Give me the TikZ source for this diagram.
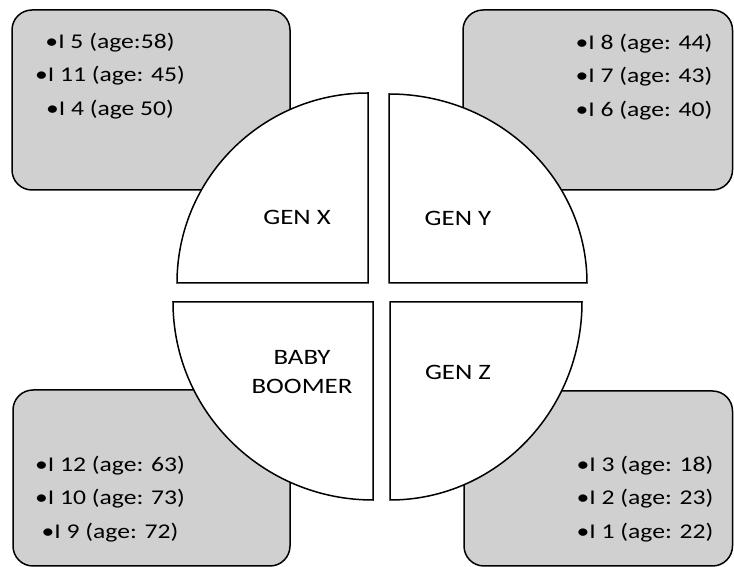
\documentclass[tikz,border=0pt]{standalone}
\usepackage{fontspec}
\setmainfont{Carlito}[FakeStretch=1.22]
\usepackage{xcolor}
\usepackage{tikz}
\usetikzlibrary{positioning}
\definecolor{panelgray}{RGB}{208,208,208}

\begin{document}
\begin{tikzpicture}[
    x=1pt, y=1pt,
    panel/.style={draw=black, line width=1.5pt, fill=panelgray, rounded corners=20pt},
    quad/.style={draw=black, line width=1.5pt, fill=white},
    items/.style={align=center, font=\fontsize{21}{33.5}\selectfont},
    gen/.style={align=center, font=\fontsize{22}{29}\selectfont},
]
\useasboundingbox (0,0) rectangle (734,567);
% grey panels
\draw[panel] (12,377) rectangle (290,557);
\draw[panel] (463,377) rectangle (732.5,557);
\draw[panel] (13,1) rectangle (290,177);
\draw[panel] (464,1) rectangle (732.5,176);
% quarter circles
\draw[quad] (368,284) -- (177,284) arc[start angle=180, end angle=90, x radius=191, y radius=190] -- cycle;
\draw[quad] (389,284) -- (389,473) arc[start angle=90, end angle=0, x radius=198, y radius=189] -- cycle;
\draw[quad] (373,265) -- (173,265) arc[start angle=180, end angle=270, x radius=200, y radius=198] -- cycle;
\draw[quad] (390,265) -- (582,265) arc[start angle=0, end angle=-90, x radius=192, y radius=198] -- cycle;
% labels
\node[gen] (genx) at (297,350) {GEN X};
\node[gen] (geny) at (458,349) {GEN Y};
\node[gen] (boomer) at (302,195) {BABY\\BOOMER};
\node[gen] (genz) at (458,195) {GEN Z};
% members
\node[items] (listx) at (110,491) {•I 5 (age:58)\\•I 11 (age: 45)\\•I 4 (age 50)};
\node[items] (listy) at (644,490) {•I 8 (age: 44)\\•I 7 (age: 43)\\•I 6 (age: 40)};
\node[items] (listb) at (110,68) {•I 12 (age: 63)\\•I 10 (age: 73)\\•I 9 (age: 72)};
\node[items] (listz) at (645,68) {•I 3 (age: 18)\\•I 2 (age: 23)\\•I 1 (age: 22)};
\end{tikzpicture}
\end{document}
